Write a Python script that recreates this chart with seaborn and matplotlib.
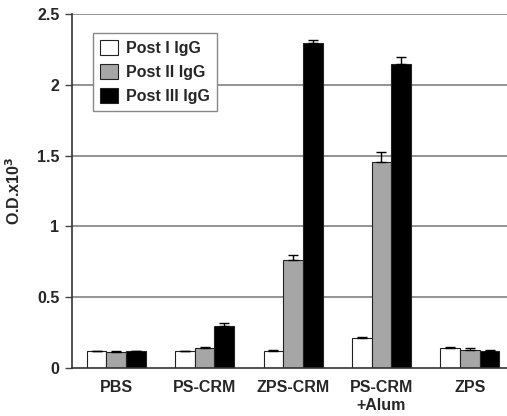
import pandas as pd
import numpy as np
import matplotlib.pyplot as plt
import seaborn as sns

sns.set_style("white")
plt.rcParams['font.family'] = ['Liberation Sans', 'DejaVu Sans']
plt.rcParams['font.weight'] = 'bold'

groups = ['PBS', 'PS-CRM', 'ZPS-CRM', 'PS-CRM\n+Alum', 'ZPS']
series = ['Post I IgG', 'Post II IgG', 'Post III IgG']
post1 = [0.12, 0.12, 0.12, 0.21, 0.139]
post2 = [0.115, 0.139, 0.763, 1.453, 0.13]
post3 = [0.12, 0.30, 2.293, 2.147, 0.122]
err1 = [0.0, 0.0, 0.004, 0.012, 0.008]
err2 = [0.008, 0.008, 0.035, 0.07, 0.01]
err3 = [0.0, 0.018, 0.025, 0.047, 0.006]
yticks = [0, 0.5, 1, 1.5, 2, 2.5]

df = pd.DataFrame({
    'group': groups * 3,
    'series': np.repeat(series, len(groups)),
    'value': post1 + post2 + post3,
    'err': err1 + err2 + err3,
})

fig = plt.figure(figsize=(5.07, 4.16), dpi=100)
pos = [0.142, 0.1154, 0.872, 0.851]

# background axes holding only the grid lines
ax_bg = fig.add_axes(pos, zorder=0)
ax_bg.set_ylim(0, 2.5)
ax_bg.set_xlim(0, 1)
ax_bg.hlines(yticks[1:], 0, 1, colors='#808080', linewidth=1.2)
ax_bg.axis('off')

ax = fig.add_axes(pos, zorder=1)
ax.patch.set_alpha(0)

sns.barplot(data=df, x='group', y='value', hue='series', hue_order=series,
            palette=['white', '#a6a6a6', 'black'], edgecolor='#222222',
            linewidth=0.8, width=0.667, errorbar=None, ax=ax)

# upward error bars placed on the drawn bars
for s, bars in zip(series, ax.containers):
    sub = df[df['series'] == s]
    xs = [b.get_x() + b.get_width() / 2 for b in bars]
    ax.errorbar(xs, sub['value'], yerr=[np.zeros(len(sub)), sub['err']],
                fmt='none', ecolor='black', elinewidth=1, capsize=3.5,
                capthick=1)

fs = 11.5
ax.set_ylim(0, 2.5)
ax.set_xlim(-0.5, 4.5)
ax.set_yticks(yticks)
ax.set_yticklabels(['0', '0.5', '1', '1.5', '2', '2.5'], fontsize=fs, fontweight='bold')
ax.set_xticks(range(len(groups)))
ax.set_xticklabels(groups, fontsize=fs, fontweight='bold', va='top', linespacing=1.25)
ax.set_xticks(np.arange(0.5, 4.5, 1), minor=True)
ax.tick_params(axis='x', which='major', length=0, pad=9)
ax.tick_params(axis='x', which='minor', length=4, width=1, color='#444444', direction='out')
ax.tick_params(axis='y', length=5, width=1, color='#444444', direction='out', left=True, pad=4)

for side in ['top', 'right']:
    ax.spines[side].set_visible(False)
for side in ['left', 'bottom']:
    ax.spines[side].set_color('#333333')
    ax.spines[side].set_linewidth(1.2)

ax.set_xlabel('')
ax.set_ylabel('O.D.x10$^\\mathbf{3}$', fontsize=fs, fontweight='bold', labelpad=10)

leg = ax.legend(loc='upper left', bbox_to_anchor=(0.03, 0.97), frameon=True,
                fancybox=False, edgecolor='#888888', framealpha=1, fontsize=fs,
                handlelength=1.1, handleheight=1.1, handletextpad=0.5,
                labelspacing=0.5, borderpad=0.45)
leg.get_frame().set_linewidth(1)
for t in leg.get_texts():
    t.set_fontweight('bold')

plt.savefig('out.png', dpi=100)
